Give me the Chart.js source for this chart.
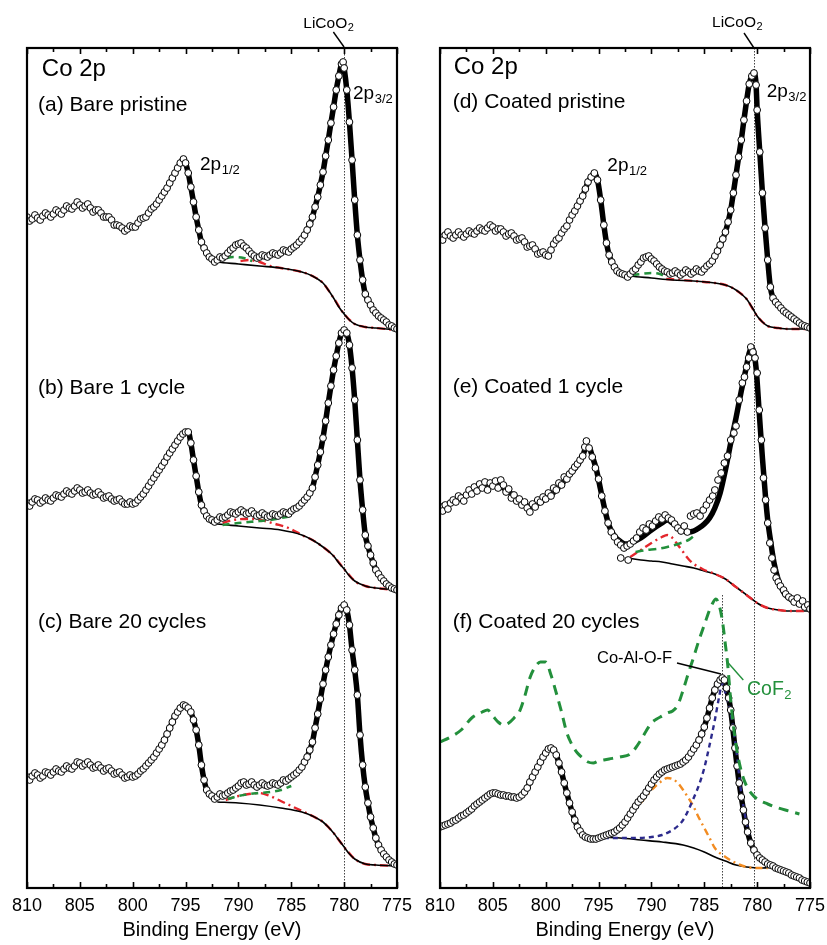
<!DOCTYPE html>
<html><head><meta charset="utf-8">
<script src="https://cdn.jsdelivr.net/npm/chart.js@4.4.1/dist/chart.umd.min.js"></script>
<style>
html,body{margin:0;padding:0;background:#fff;}
#wrap{position:relative;width:827px;height:945px;}
#cL{position:absolute;left:0;top:0;}
#cR{position:absolute;left:414px;top:0;}
</style></head><body>
<div id="wrap"><canvas id="cL" width="414" height="945"></canvas><canvas id="cR" width="413" height="945"></canvas></div>
<script>
// ---------- axis ----------
const energyTicks = [810,805,800,795,790,785,780,775];
const minorTicks = [807.5,802.5,797.5,792.5,787.5,782.5,777.5];

// ---------- (a) Bare pristine : [binding energy eV, intensity a.u. incl. offset] ----------
const bareP = [[810,671],[809.75,667],[809.5,669],[809.25,673],[809,670],[808.75,668],[808.5,672],[808.25,675],[808,673],[807.75,671],[807.5,674],[807.25,678],[807,676],[806.75,674],[806.5,678],[806.25,682],[806,680],[805.75,679],[805.5,682],[805.25,686],[805,683],[804.75,680],[804.5,682],[804.25,684],[804,680],[803.75,676],[803.5,678],[803.25,678],[803,675],[802.75,671],[802.5,671],[802.25,671],[802,668],[801.75,663],[801.5,663],[801.25,662],[801,660],[800.75,657],[800.5,659],[800.25,662],[800,661],[799.75,661],[799.5,665],[799.25,669],[799,670],[798.75,671],[798.5,675],[798.25,679],[798,681],[797.75,684],[797.5,688],[797.25,692],[797,696],[796.75,700],[796.5,705],[796.25,710],[796,715],[795.75,720],[795.5,725],[795.2,729],[795,725],[794.75,715],[794.5,701],[794.25,686],[794,671],[793.75,658],[793.5,646],[793.25,640],[793,635],[792.75,631],[792.5,629],[792.25,626],[792,628],[791.75,631],[791.5,630],[791.25,632],[791,635],[790.75,638],[790.5,640],[790.25,643],[790,644],[789.75,645],[789.5,642],[789.25,640],[789,637],[788.75,634],[788.5,632],[788.25,630],[788,631],[787.75,633],[787.5,632],[787.25,631],[787,633],[786.75,635],[786.5,634],[786.25,633],[786,635],[785.75,638],[785.5,637],[785.25,636],[785,639],[784.75,641],[784.5,643],[784.25,646],[784,649],[783.75,653],[783.5,658],[783.25,664],[783,671],[782.75,681],[782.5,691],[782.25,703],[782,716],[781.75,732],[781.5,748],[781.25,765],[781,781],[780.75,798],[780.5,812],[780.25,824],[780.1,826],[780,820],[779.75,798],[779.5,766],[779.25,728],[779,688],[778.75,653],[778.5,628],[778.25,608],[778,594],[777.75,588],[777.5,583],[777.25,578],[777,575],[776.75,572],[776.5,570],[776.25,568],[776,566],[775.75,563],[775.5,562],[775.25,560],[775,559]];
const bgBareP = [[792.5,627],[792,626],[790,624],[788,622],[786,620],[784,616],[783,612],[782,605],[781.5,598],[781,590],[780.5,581],[780,574],[779.5,568],[779,564],[778,561],[777,560],[775,558]];
const greenBareP = [[792.2,627],[791.5,629],[790.5,631],[789.5,630],[788.7,627]];
const redBareP = [[789.8,627],[789,628],[788,626],[787,622],[786,620],[784,616],[783,612],[782,605],[781,590],[780,574],[779,564],[778,561],[777,560],[775,558]];

// ---------- (b) Bare 1 cycle ----------
const bare1 = [[810,385],[809.75,382],[809.5,386],[809.25,389],[809,388],[808.75,385],[808.5,387],[808.25,390],[808,388],[807.75,387],[807.5,390],[807.25,393],[807,392],[806.75,391],[806.5,394],[806.25,397],[806,395],[805.75,394],[805.5,397],[805.25,400],[805,398],[804.75,395],[804.5,396],[804.25,398],[804,395],[803.75,393],[803.5,394],[803.25,396],[803,393],[802.75,390],[802.5,391],[802.25,392],[802,389],[801.75,387],[801.5,388],[801.25,389],[801,386],[800.75,384],[800.5,384],[800.25,386],[800,384],[799.75,385],[799.5,388],[799.25,391],[799,394],[798.75,398],[798.5,402],[798.25,406],[798,410],[797.75,414],[797.5,418],[797.25,422],[797,426],[796.75,431],[796.5,435],[796.25,439],[796,443],[795.75,447],[795.5,451],[795.25,454],[795,456],[794.75,456],[794.5,445],[794.25,428],[794,412],[793.75,396],[793.5,383],[793.25,377],[793,372],[792.75,369],[792.5,368],[792.25,366],[792,368],[791.75,371],[791.5,370],[791.25,371],[791,373],[790.75,376],[790.5,375],[790.25,374],[790,376],[789.75,378],[789.5,376],[789.25,374],[789,375],[788.75,377],[788.5,374],[788.25,372],[788,373],[787.75,375],[787.5,373],[787.25,371],[787,372],[786.75,374],[786.5,373],[786.25,372],[786,374],[785.75,376],[785.5,375],[785.25,374],[785,377],[784.75,379],[784.5,380],[784.25,382],[784,385],[783.75,388],[783.5,391],[783.25,395],[783,400],[782.75,411],[782.5,423],[782.25,436],[782,450],[781.75,467],[781.5,485],[781.25,502],[781,518],[780.75,532],[780.5,545],[780.25,555],[780,558],[779.75,555],[779.5,543],[779.25,520],[779,488],[778.75,448],[778.5,408],[778.25,378],[778,353],[777.75,342],[777.5,333],[777.25,325],[777,318],[776.75,314],[776.5,310],[776.25,307],[776,304],[775.75,302],[775.5,300],[775.25,299],[775,298]];
const bgBare1 = [[792.7,365],[792,364],[790,362],[788,360],[786,358],[784,353],[783,348],[782,341],[781,332],[780.5,325],[780,319],[779.5,312],[779,307],[778,302],[777,300],[775,298]];
const greenBare1 = [[791.5,363],[790,365],[789,366],[788,367],[787,368],[786,370],[785,372]];
const redBare1 = [[791.5,365],[790.5,368],[789.5,369],[788.5,369],[787.5,367],[786.5,364],[785.5,361],[784.5,356],[784,353],[783,348],[782,341],[781,332],[780,319],[779,307],[778,302],[777,300],[775,298]];

// ---------- (c) Bare 20 cycles ----------
const bare20 = [[810,111],[809.75,108],[809.5,112],[809.25,115],[809,113],[808.75,110],[808.5,112],[808.25,116],[808,115],[807.75,113],[807.5,116],[807.25,119],[807,117],[806.75,116],[806.5,119],[806.25,122],[806,120],[805.75,119],[805.5,122],[805.25,126],[805,125],[804.75,122],[804.5,124],[804.25,126],[804,123],[803.75,120],[803.5,121],[803.25,123],[803,120],[802.75,117],[802.5,119],[802.25,120],[802,117],[801.75,114],[801.5,115],[801.25,116],[801,113],[800.75,110],[800.5,111],[800.25,113],[800,111],[799.75,112],[799.5,114],[799.25,117],[799,119],[798.75,122],[798.5,125],[798.25,128],[798,131],[797.75,135],[797.5,139],[797.25,143],[797,148],[796.75,154],[796.5,160],[796.25,166],[796,172],[795.75,176],[795.5,180],[795.2,183],[795,182],[794.75,180],[794.5,176],[794.25,168],[794,158],[793.75,143],[793.5,123],[793.25,108],[793,98],[792.75,94],[792.5,92],[792.25,89],[792,91],[791.75,94],[791.5,92],[791.25,93],[791,95],[790.75,97],[790.5,98],[790.25,100],[790,102],[789.75,105],[789.5,106],[789.25,103],[789,104],[788.75,106],[788.5,103],[788.25,101],[788,103],[787.75,105],[787.5,103],[787.25,102],[787,103],[786.75,105],[786.5,104],[786.25,103],[786,105],[785.75,108],[785.5,107],[785.25,109],[785,111],[784.75,113],[784.5,115],[784.25,118],[784,121],[783.75,126],[783.5,131],[783.25,138],[783,146],[782.75,160],[782.5,174],[782.25,189],[782,204],[781.75,218],[781.5,231],[781.25,243],[781,254],[780.75,264],[780.5,273],[780.25,280],[780,283],[779.75,278],[779.5,263],[779.25,238],[779,218],[778.75,193],[778.5,153],[778.25,123],[778,101],[777.75,85],[777.5,71],[777.25,60],[777,50],[776.75,43],[776.5,38],[776.25,34],[776,31],[775.75,28],[775.5,26],[775.25,24],[775,23]];
const bgBare20 = [[792,86],[790,85],[788,83],[786,80],[784,76],[783,72],[782,66],[781.5,61],[781,55],[780.5,48],[780,41],[779.5,34],[779,29],[778,24],[777,23],[775,22]];
const greenBare20 = [[791,89],[790,92],[789,94],[788,95],[787,96],[786,98],[785,102]];
const redBare20 = [[791.2,88],[790,92],[789,94],[788,95],[787,92],[786,87],[785,82],[784,77],[783,72],[782,66],[781,55],[780,41],[779,29],[778,24],[777,23],[775,22]];

// ---------- (d) Coated pristine ----------
const coatP = [[810,651],[809.75,648],[809.5,653],[809.25,656],[809,652],[808.75,650],[808.5,653],[808.25,656],[808,653],[807.75,651],[807.5,654],[807.25,657],[807,655],[806.75,654],[806.5,657],[806.25,660],[806,658],[805.75,657],[805.5,660],[805.25,663],[805,661],[804.75,657],[804.5,659],[804.25,659],[804,656],[803.75,652],[803.5,654],[803.25,655],[803,652],[802.75,648],[802.5,649],[802.25,650],[802,646],[801.75,641],[801.5,642],[801.25,643],[801,639],[800.75,634],[800.5,635],[800.25,636],[800,633],[799.75,632],[799.5,638],[799.25,644],[799,648],[798.75,650],[798.5,655],[798.25,659],[798,662],[797.75,668],[797.5,673],[797.25,677],[797,682],[796.75,687],[796.5,692],[796.25,699],[796,706],[795.7,711],[795.4,715],[795.1,708],[794.8,688],[794.5,663],[794.25,645],[794,633],[793.75,626],[793.5,621],[793.25,617],[793,615],[792.75,614],[792.5,613],[792.25,611],[792,614],[791.75,617],[791.5,619],[791.25,623],[791,626],[790.75,630],[790.5,631],[790.25,632],[790,629],[789.75,627],[789.5,624],[789.25,621],[789,619],[788.75,617],[788.5,616],[788.25,614],[788,615],[787.75,617],[787.5,615],[787.25,613],[787,615],[786.75,618],[786.5,616],[786.25,614],[786,616],[785.75,619],[785.5,617],[785.25,616],[785,619],[784.75,622],[784.5,624],[784.25,627],[784,632],[783.75,637],[783.5,643],[783.25,649],[783,656],[782.75,666],[782.5,678],[782.25,695],[782,713],[781.75,731],[781.5,748],[781.25,768],[781,787],[780.75,804],[780.5,812],[780.3,815],[780.1,803],[780,778],[779.75,736],[779.5,695],[779.25,660],[779,628],[778.75,601],[778.5,590],[778.25,586],[778,583],[777.75,580],[777.5,577],[777.25,575],[777,573],[776.75,571],[776.5,569],[776.25,567],[776,565],[775.75,563],[775.5,562],[775.25,561],[775,560]];
const bgCoatP = [[792.5,613],[792,612],[790,610],[788,608],[786,607],[784,605],[783,603],[782.5,601],[782,598],[781.5,594],[781,589],[780.5,581],[780,572],[779.5,566],[779,562],[778,560],[777,559],[775,559]];
const greenCoatP = [[791.8,613],[791,614],[790,615],[789.2,614],[788.6,611]];
const redCoatP = [[788.6,609],[787,608],[786,607],[784,605],[783,603],[782,598],[781,589],[780,572],[779,562],[778,560],[777,559],[775,559]];

// ---------- (e) Coated 1 cycle ----------
const coat1 = [[810,381],[809.75,377],[809.5,383],[809.25,379],[809,385],[808.75,388],[808.5,386],[808.25,392],[808,390],[807.75,387],[807.5,393],[807.25,398],[807,394],[806.75,401],[806.5,397],[806.25,404],[806,400],[805.75,406],[805.5,398],[805.25,405],[805,402],[804.75,407],[804.5,400],[804.25,408],[804,403],[803.75,396],[803.5,399],[803.25,390],[803,393],[802.75,387],[802.5,389],[802.25,383],[802,386],[801.75,380],[801.5,376],[801.25,384],[801,381],[800.75,388],[800.5,386],[800.25,391],[800,389],[799.75,395],[799.5,392],[799.25,400],[799,398],[798.75,405],[798.5,403],[798.25,411],[798,409],[797.75,414],[797.5,417],[797.25,421],[797,424],[796.75,428],[796.5,432],[796.3,441],[796.15,447],[795.9,440],[795.6,431],[795.3,420],[795,409],[794.7,392],[794.4,377],[794.1,365],[793.8,356],[793.5,351],[793.2,346],[792.9,343],[792.9,330],[792.6,340],[792.3,342],[792.2,328],[792,344],[791.7,347],[791.4,350],[791.1,356],[790.8,360],[790.5,358],[790.2,364],[789.9,362],[789.6,367],[789.3,371],[789,369],[788.7,373],[788.4,370],[788.1,368],[787.8,364],[787.5,360],[787.2,357],[786.9,362],[786.6,356],[786.3,372],[786,374],[785.7,375],[785.4,372],[785.1,378],[784.8,383],[784.5,388],[784.2,392],[784,398],[783.7,408],[783.4,415],[783.1,425],[782.8,432],[782.5,448],[782.2,455],[782,462],[781.7,488],[781.4,505],[781.2,511],[781,521],[780.8,530],[780.6,541],[780.4,536],[780.2,530],[780,515],[779.8,478],[779.6,448],[779.4,410],[779.2,388],[779,365],[778.8,345],[778.6,330],[778.4,318],[778.2,310],[778,306],[777.8,302],[777.5,298],[777.3,294],[777,291],[776.7,289],[776.5,286],[776.2,290],[776,284],[775.7,287],[775.5,281],[775.2,283],[775,279]];
const fitCoat1 = [[810,381],[809,385],[808,390],[807,396],[806,401],[805,403],[804.5,403],[804,400],[803,392],[802,384],[801.5,381],[801,383],[800,389],[799,398],[798,410],[797,423],[796.5,432],[796.2,440],[795.9,440],[795.6,432],[795.2,418],[794.8,398],[794.4,378],[794,362],[793.5,352],[793,347],[792.5,344],[792,345],[791,350],[790,358],[789,365],[788.5,368],[788,365],[787.5,361],[787,358],[786.5,356],[786,357],[785.5,360],[785,364],[784.5,370],[784,380],[783.5,395],[783,418],[782.5,445],[782,470],[781.5,497],[781,522],[780.75,535],[780.55,540],[780.35,537],[780.1,520],[779.8,475],[779.5,430],[779.2,390],[779,368],[778.7,345],[778.4,325],[778,308],[777.5,296],[777,290],[776,285],[775,282]];
const bgCoat1 = [[792.2,330],[791,328],[790,327],[789,326],[788,324],[787,322],[786,320],[785,317],[784,314],[783,309],[782.5,305],[782,301],[781.5,297],[781,293],[780.5,289],[780,285],[779.5,282],[779,280],[778,278],[777,277],[775,277]];
const greenCoat1 = [[791.5,336],[790.5,338],[789.5,339],[788.5,341],[787.5,344],[786.5,348],[786,352]];
const redCoat1 = [[792,331],[791,338],[790,345],[789,351],[788.5,353],[788,350],[787.5,343],[787,336],[786.5,329],[786,324],[785.5,321],[785,318],[784,314],[783,309],[782,301],[781,293],[780,285],[779,280],[778,278],[777,277],[775,277]];

// ---------- (f) Coated 20 cycles ----------
const coat20 = [[810,61],[809.75,62],[809.5,63],[809.25,64],[809,65],[808.75,67],[808.5,68],[808.25,70],[808,72],[807.75,73],[807.5,75],[807.25,77],[807,79],[806.75,82],[806.5,84],[806.25,86],[806,88],[805.75,90],[805.5,92],[805.25,94],[805,95],[804.75,95],[804.5,94],[804.25,93],[804,93],[803.75,92],[803.5,92],[803.25,91],[803,91],[802.75,90],[802.5,91],[802.25,93],[802,96],[801.75,100],[801.5,106],[801.25,111],[801,116],[800.75,121],[800.5,126],[800.25,131],[800,135],[799.75,139],[799.5,140],[799.25,138],[799,133],[798.75,125],[798.5,116],[798.25,105],[798,95],[797.75,85],[797.5,76],[797.25,68],[797,61],[796.75,57],[796.5,53],[796.25,51],[796,50],[795.75,49],[795.5,49],[795.25,49],[795,50],[794.75,51],[794.5,52],[794.25,53],[794,54],[793.75,55],[793.5,56],[793.25,58],[793,60],[792.75,63],[792.5,66],[792.25,70],[792,74],[791.75,78],[791.5,82],[791.25,86],[791,89],[790.75,92],[790.5,96],[790.25,100],[790,104],[789.75,108],[789.5,111],[789.25,114],[789,116],[788.75,118],[788.5,119],[788.25,120],[788,121],[787.75,122],[787.5,123],[787.25,124],[787,126],[786.75,128],[786.5,131],[786.25,135],[786,139],[785.75,143],[785.5,148],[785.25,154],[785,161],[784.75,170],[784.5,180],[784.25,190],[784,198],[783.75,204],[783.5,208],[783.3,210],[783.1,208],[782.9,200],[782.7,190],[782.5,178],[782.3,160],[782.1,140],[781.9,122],[781.7,105],[781.5,91],[781.3,78],[781.1,66],[780.9,56],[780.6,45],[780.3,38],[780,33],[779.75,30],[779.5,28],[779.25,26],[779,24],[778.75,23],[778.5,22],[778.25,20],[778,19],[777.75,18],[777.5,17],[777.25,16],[777,15],[776.75,13],[776.5,12],[776.25,11],[776,10],[775.75,8],[775.5,7],[775.25,6],[775,5]];
const bgCoat20 = [[795,51],[793,50],[791,48],[789,46],[787,43],[786,40],[785,36],[784,31],[783,27],[782,23],[781,21],[779.5,20],[778.5,21]];
const coAlOF = [[794.5,50],[792,50],[790,51],[789,53],[788,58],[787.5,62],[787,68],[786.5,78],[786,90],[785.5,103],[785,120],[784.5,143],[784,168],[783.6,191],[783.3,205],[783,195],[782.5,175],[782,140],[781.5,95],[781,65],[780.5,45],[780,32],[779,24],[778.5,21]];
const orangeCoat20 = [[791,85],[790.4,93],[789.5,103],[789,107],[788.5,110],[788,109],[787.5,105],[787,98],[786.5,90],[786,81],[785.5,70],[785,60],[784.5,50],[784,40],[783,31],[782,25],[781,21],[780,20],[779,20]];
const coF2 = [[810,146],[809,151],[808,158],[807,170],[806,176],[805.5,178],[805,172],[804.5,166],[804,163],[803.5,165],[803,170],[802.5,176],[802,191],[801.5,210],[801,221],[800.5,226],[800,226],[799.5,213],[799,195],[798.5,176],[798,155],[797.5,143],[797,135],[796.5,130],[796,126],[795.5,125],[795,127],[794.5,128],[794,129],[793,131],[792,134],[791.5,140],[791,148],[790.5,157],[790,165],[789.5,169],[789,172],[788.5,175],[788,177],[787.5,183],[787,198],[786.5,215],[786,231],[785.5,248],[785,263],[784.5,278],[784.2,285],[783.9,289],[783.6,283],[783.3,268],[783,243],[782.8,225],[782.5,188],[782.2,158],[781.8,131],[781.4,113],[781,102],[780.5,94],[780,89],[779,84],[778,80],[777,77],[776,74]];

// ---------- text, leaders, guides (positions in data coordinates) ----------
const leftNotes = [
  {t:'Co 2p', e:808.6, i:812, size:24},
  {t:'(a) Bare pristine', e:808.95, i:777, size:21},
  {t:'(b) Bare 1 cycle', e:808.95, i:494, size:21},
  {t:'(c) Bare 20 cycles', e:808.95, i:260, size:21},
  {t:'2p', sub:'3/2', e:779.16, i:789, size:19},
  {t:'2p', sub:'1/2', e:793.63, i:718, size:19},
  {t:'LiCoO', sub:'2', e:781.5, i:860, size:15.5, align:'center'}
];
const rightNotes = [
  {t:'Co 2p', e:808.7, i:814, size:24},
  {t:'(d) Coated pristine', e:808.8, i:780, size:21},
  {t:'(e) Coated 1 cycle', e:808.8, i:495, size:21},
  {t:'(f) Coated 20 cycles', e:808.8, i:260, size:21},
  {t:'2p', sub:'3/2', e:779.1, i:791, size:19},
  {t:'2p', sub:'1/2', e:794.17, i:717, size:19},
  {t:'LiCoO', sub:'2', e:781.9, i:861, size:15.5, align:'center'},
  {t:'Co-Al-O-F', e:795.15, i:225, size:16.5},
  {t:'CoF', sub:'2', e:780.96, i:193, size:19.5, color:'#23903c'}
];
const leftLeaders = [{e1:781.02, i1:856, e2:780.01, i2:841, color:'#000'}];
const rightLeaders = [
  {e1:781.24, i1:855, e2:780.3, i2:840, color:'#000'},
  {e1:787.58, i1:225, e2:783.42, i2:214, color:'#000'},
  {e1:782.73, i1:225, e2:781.31, i2:208, color:'#23903c'}
];
const leftGuides = [{e:780.0, from:0, to:840}];
const rightGuides = [{e:780.3, from:0, to:840}, {e:783.3, from:0, to:293}];

// ---------- helpers ----------
const FONT = 'Arial, "Liberation Sans", Helvetica, sans-serif';
const GREEN = '#23903c', RED = '#e3262c', ORANGE = '#f28c22', NAVY = '#2c2a8c';
const pts = a => a.map(p => ({x:p[0], y:p[1]}));
const upTo = (a, eMax) => a.filter(p => p[0] <= eMax);
function dots(a){ return {data:pts(a), showLine:false, pointRadius:3.4, pointBackgroundColor:'#fff', pointBorderColor:'#000', pointBorderWidth:1, order:0}; }
function curve(a, color, width, dash, order){ return {data:pts(a), borderColor:color, borderWidth:width, borderDash:dash||[], pointRadius:0, cubicInterpolationMode:'monotone', fill:false, order:order}; }
function spectrum(data, fit, bg, extras){
  return [dots(data), curve(fit,'#000',5.5,[],3), curve(bg,'#000',1.6,[],4), ...extras];
}

function drawNote(ctx, x, y, n){
  ctx.fillStyle = n.color || '#000';
  ctx.textBaseline = 'alphabetic'; ctx.textAlign = 'left';
  ctx.font = n.size + 'px ' + FONT;
  const w1 = ctx.measureText(n.t).width;
  const ss = Math.round(n.size*0.68);
  let w2 = 0;
  if (n.sub){ ctx.font = ss + 'px ' + FONT; w2 = ctx.measureText(n.sub).width; }
  const x0 = n.align === 'center' ? x - (w1 + w2)/2 : x;
  ctx.font = n.size + 'px ' + FONT;
  ctx.fillText(n.t, x0, y);
  if (n.sub){ ctx.font = ss + 'px ' + FONT; ctx.fillText(n.sub, x0 + w1 + 0.5, y + n.size*0.2); }
}

const framePlugin = {
  id: 'xpsFrame',
  beforeDatasetsDraw(chart, args, o){
    const {ctx, scales:{x, y}} = chart;
    ctx.save();
    ctx.strokeStyle = '#444'; ctx.lineWidth = 1; ctx.setLineDash([1.5,1.5]);
    for (const g of o.guides){
      const px = Math.round(x.getPixelForValue(g.e)) + 0.5;
      ctx.beginPath(); ctx.moveTo(px, y.getPixelForValue(g.to)); ctx.lineTo(px, y.getPixelForValue(g.from)); ctx.stroke();
    }
    ctx.restore();
  },
  afterDraw(chart, args, o){
    const {ctx, chartArea:a, scales:{x, y}} = chart;
    ctx.save();
    ctx.strokeStyle = '#000'; ctx.lineWidth = 2.2; ctx.setLineDash([]);
    ctx.strokeRect(a.left, a.top, a.right - a.left, a.bottom - a.top);
    ctx.lineWidth = 1.6;
    const tick = (v, len) => {
      const px = Math.round(x.getPixelForValue(v)) + 0.5;
      ctx.beginPath(); ctx.moveTo(px, a.bottom); ctx.lineTo(px, a.bottom - len);
      ctx.moveTo(px, a.top); ctx.lineTo(px, a.top + len); ctx.stroke();
    };
    energyTicks.forEach(v => tick(v, 6));
    minorTicks.forEach(v => tick(v, 4));
    ctx.lineWidth = 1.4;
    for (const l of o.leaders){
      ctx.strokeStyle = l.color;
      ctx.beginPath(); ctx.moveTo(x.getPixelForValue(l.e1), y.getPixelForValue(l.i1));
      ctx.lineTo(x.getPixelForValue(l.e2), y.getPixelForValue(l.i2)); ctx.stroke();
    }
    for (const n of o.notes) drawNote(ctx, x.getPixelForValue(n.e), y.getPixelForValue(n.i), n);
    ctx.restore();
  }
};

function options(padL, padR, notes, leaders, guides){
  return {
    responsive:false, animation:false, events:[],
    layout:{padding:{left:padL, right:padR, top:48, bottom:0}},
    plugins:{legend:{display:false}, tooltip:{enabled:false}, xpsFrame:{notes, leaders, guides}},
    scales:{
      x:{type:'linear', min:775, max:810, reverse:true,
         afterBuildTicks: s => { s.ticks = energyTicks.map(v => ({value:v})); },
         afterFit: s => { s.height = 57; s.paddingLeft = 0; s.paddingRight = 0; },
         grid:{display:false, drawTicks:false}, border:{display:false},
         ticks:{padding:7, color:'#000', font:{size:18, family:FONT}, maxRotation:0, autoSkip:false},
         title:{display:true, text:'Binding Energy (eV)', color:'#000', font:{size:20, family:FONT}, padding:{top:0, bottom:3}}},
      y:{type:'linear', min:0, max:840, display:false}
    }
  };
}

Chart.defaults.font.family = FONT;

new Chart(document.getElementById('cL'), {
  type:'line',
  data:{datasets:[
    ...spectrum(bareP, upTo(bareP,797.5), bgBareP, [curve(greenBareP,GREEN,2.6,[7,5],2), curve(redBareP,RED,2.4,[8,4,2,4],5)]),
    ...spectrum(bare1, upTo(bare1,797.5), bgBare1, [curve(greenBare1,GREEN,2.6,[7,5],2), curve(redBare1,RED,2.4,[8,4,2,4],5)]),
    ...spectrum(bare20, upTo(bare20,797.5), bgBare20, [curve(greenBare20,GREEN,2.6,[7,5],2), curve(redBare20,RED,2.4,[8,4,2,4],5)])
  ]},
  options: options(27, 17, leftNotes, leftLeaders, leftGuides),
  plugins:[framePlugin]
});

new Chart(document.getElementById('cR'), {
  type:'line',
  data:{datasets:[
    ...spectrum(coatP, upTo(coatP,797.5), bgCoatP, [curve(greenCoatP,GREEN,2.6,[7,5],2), curve(redCoatP,RED,2.4,[8,4,2,4],5)]),
    ...spectrum(coat1, fitCoat1, bgCoat1, [curve(greenCoat1,GREEN,2.6,[8,5],2), curve(redCoat1,RED,2.4,[8,4,2,4],2)]),
    ...spectrum(coat20, coat20, bgCoat20, [curve(coAlOF,NAVY,2.4,[5,4],2), curve(orangeCoat20,ORANGE,2.4,[7,4,2,4],2), curve(coF2,GREEN,3,[10,7],-1)])
  ]},
  options: options(26, 17, rightNotes, rightLeaders, rightGuides),
  plugins:[framePlugin]
});
</script>
</body></html>
